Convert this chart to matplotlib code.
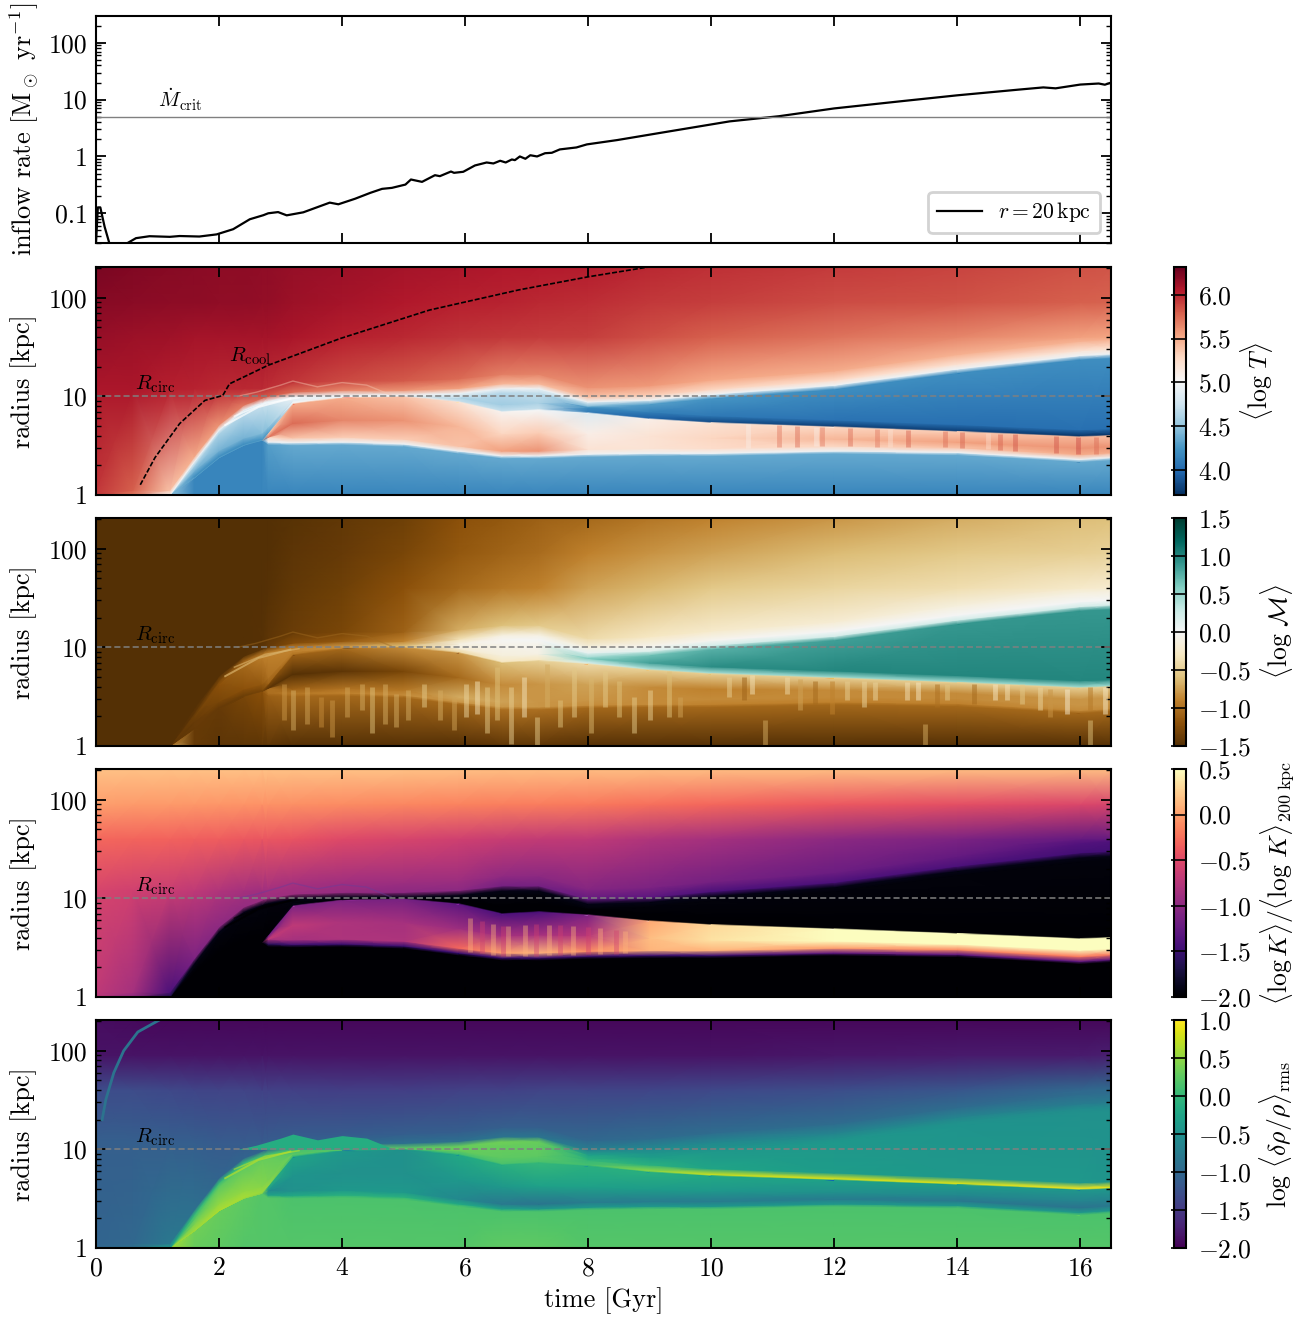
import numpy as np
import matplotlib
matplotlib.use("Agg")
from matplotlib import pyplot as plt
from matplotlib.ticker import FixedLocator, FixedFormatter, NullFormatter

plt.rcParams['font.family'] = ['cmr10', 'DejaVu Sans']
plt.rcParams['mathtext.fontset'] = 'cm'
plt.rcParams['axes.formatter.use_mathtext'] = True
plt.rcParams['axes.unicode_minus'] = False

# inflow rate at r = 20 kpc
inflow_t = [0.0, 0.03, 0.07, 0.14, 0.22, 0.49, 0.65, 0.87, 1.2, 1.36, 1.68, 1.96, 2.23, 2.5, 2.72, 2.8, 2.96, 3.1,
            3.37, 3.8, 3.94, 4.21, 4.46, 4.65, 4.81, 5.03, 5.12, 5.3, 5.51, 5.59, 5.77, 5.82, 5.97, 6.16, 6.35, 6.46,
            6.57, 6.66, 6.76, 6.81, 6.89, 6.98, 7.06, 7.17, 7.3, 7.41, 7.54, 7.81, 7.98, 8.47, 9.22, 10.3, 11.1,
            12.0, 13.1, 14.0, 15.0, 15.4, 15.6, 16.0, 16.3, 16.4, 16.5]
inflow_rate = [0.03, 0.127, 0.127, 0.058, 0.029, 0.029, 0.0365, 0.0395, 0.0385, 0.0398, 0.039, 0.0425, 0.0525, 0.0785,
               0.0925, 0.1, 0.105, 0.092, 0.104, 0.154, 0.144, 0.18, 0.229, 0.269, 0.28, 0.32, 0.393, 0.357, 0.468,
               0.45, 0.543, 0.515, 0.537, 0.694, 0.783, 0.753, 0.84, 0.783, 0.885, 0.861, 1.0, 0.91, 1.05, 1.0, 1.14,
               1.16, 1.33, 1.44, 1.63, 1.94, 2.65, 4.14, 5.1, 7.0, 9.4, 11.9, 15.0, 16.4, 15.8, 18.4, 19.2, 18.3, 19.9]
mdot_crit = 5.0
r_circ = 10.0

# cooling radius
rcool_t = [0.72, 0.96, 1.36, 1.77, 2.06, 2.17, 2.8, 3.97, 5.42, 6.87, 8.0, 8.96]
rcool_r = [1.27, 2.4, 5.3, 9.1, 10.2, 13.4, 20.7, 38.6, 75, 120, 163, 204]

# outgoing shock seen in the density panel
shock_t = [0.1, 0.16, 0.29, 0.45, 0.68, 1.03]
shock_r = [20, 32, 60, 100, 155, 205]

# arcs above Rcirc around t = 3-5 Gyr
arc_t = [2.3, 2.6, 3.0, 3.2, 3.6, 4.0, 4.4, 4.8]
arc_r = [10, 11, 13, 14.3, 12.5, 13.8, 13, 10.3]

# two cold streams just ahead of the front
stream1_t = [2.1, 2.64, 3.16]
stream1_r = [5.1, 7.8, 9.5]
stream2_t = [2.25, 2.75, 3.3]
stream2_r = [6.3, 8.5, 9.7]

# vertical streaks in the Mach map: time, upper and lower radius, value
streak_t = [3.05, 3.21, 3.43, 3.65, 3.84, 4.08, 4.33, 4.49, 4.7, 4.87, 5.08, 5.33, 5.6, 5.82, 6.01, 6.2, 6.36, 6.52,
            6.74, 6.95, 7.17, 7.33, 7.55, 7.77, 8.04, 8.28, 8.5, 8.74, 9.01, 9.31, 9.5, 10.29, 10.53, 10.67, 10.88,
            11.23, 11.45, 11.69, 11.97, 12.21, 12.48, 12.67, 13.18, 13.37, 13.48, 13.67, 13.83, 14.27, 14.62, 14.81,
            15.05, 15.35, 15.51, 15.78, 16.16, 16.16, 16.4]
streak_hi = [4.3, 3.66, 3.96, 3.14, 2.9, 3.96, 4.3, 3.96, 4.3, 3.39, 3.66, 4.3, 3.66, 3.14, 4.3, 4.6, 3.96, 6.3,
             3.96, 5.0, 1.97, 6.8, 2.9, 6.3, 5.0, 5.8, 4.6, 3.14, 3.66, 5.8, 3.14, 5.0, 5.0, 5.2, 1.83,
             5.0, 4.8, 4.6, 4.6, 4.6, 4.6, 4.45, 4.45, 4.45, 1.69, 4.3, 4.3, 4.3, 4.3, 4.3,
             4.3, 3.96, 3.8, 3.8, 1.83, 3.96, 3.96]
streak_lo = [1.83, 1.45, 1.69, 1.56, 1.24, 1.97, 2.3, 1.34, 1.69, 1.56, 1.83, 2.49, 1.83, 1.45, 1.97, 2.13, 1.34, 1.83,
             1.06, 1.97, 1.02, 2.49, 1.56, 1.97, 1.34, 2.49, 1.97, 1.34, 1.83, 1.97, 1.97, 3.14, 2.9, 3.39, 1.02,
             3.39, 2.3, 2.69, 2.13, 2.9, 2.49, 2.9, 2.9, 2.9, 1.02, 2.49, 2.9, 2.69, 2.9, 2.9,
             2.69, 2.3, 1.97, 2.13, 1.02, 2.3, 2.13]
streak_val = [-0.8, -0.7, -0.75, -0.85, -0.8, -0.75, -0.7, -0.6, -0.7, -0.7, -0.7, -0.55, -0.7, -0.75, -0.45, -0.35,
              -0.55, -0.6, -0.5, -0.35, -0.55, -0.7, -0.6, -0.55, -0.65, -0.55, -0.6, -0.55, -0.5, -0.6, -0.75,
              -0.5, -1.1, -0.35, -0.7, -0.4, -0.75, -1.05, -0.9, -0.5, -0.45, -0.45, -0.35, -0.3, -0.7, -1.0, -0.55,
              -1.05, -0.3, -0.35, -0.55, -0.45, -0.8, -0.2, -0.6, -0.95, -0.3]

# stripes in the temperature and entropy maps
T_stripe_t = [10.6, 11.1, 11.4, 11.7, 11.8, 12.26, 12.7, 12.9, 13.2, 13.8, 14.07, 14.5, 14.7, 14.94, 15.6, 15.96, 16.25]
T_stripe_val = [5.1, 5.7, 5.75, 5.1, 5.7, 5.75, 5.7, 5.2, 5.8, 5.75, 5.8, 5.25, 5.8, 5.85, 5.85, 5.9, 5.75]
K_stripe_t = [6.08, 6.27, 6.46, 6.62, 6.7, 6.97, 7.15, 7.36, 7.55, 7.75, 8.0, 8.2, 8.45, 8.6]
K_stripe_val = [0.1, -0.6, 0.1, -0.6, 0.1, 0.1, -0.6, 0.1, -0.6, 0.1, -0.6, 0.1, -0.6, 0.1]

# columns of the maps and the feature radii they follow
map_t = [0, 0.6, 1.2, 1.6, 2.0, 2.4, 2.7, 2.8, 3.2, 4.0, 5.0, 5.9, 6.6, 7.2, 8.0, 9.0, 10.0, 12.0, 14.0, 16.0, 16.5]
band_lo = [1, 1, 1, 1.5, 2.4, 3.2, 3.6, 3.45, 3.4, 3.45, 3.3, 2.8, 2.5, 2.5, 2.6, 2.65, 2.65, 2.8, 2.7, 2.3, 2.4]
band_hi = [1, 1, 1, 1.5, 2.4, 3.2, 3.6, 4.2, 8.4, 9.6, 9.9, 8.8, 7.0, 7.3, 6.8, 5.9, 5.4, 4.9, 4.4, 3.9, 4.0]
disc_top = [1, 1, 1, 2.2, 4.6, 7.3, 8.6, 9.0, 9.9, 10.3, 10.3, 10.8, 12, 12, 8.8, 9.2, 10.5, 13, 19, 26, 27]
upper_r = [40, 90, 205]

# values along each feature radius, bottom row first
logT = [
    [5.95, 5.7, 4.5, 4.15, 4.15, 4.15, 4.15, 4.15, 4.15, 4.15, 4.15, 4.15, 4.15, 4.15, 4.15, 4.15, 4.15, 4.15, 4.15, 4.15, 4.15],
    [5.95, 5.7, 4.5, 4.15, 4.15, 4.15, 4.15, 4.3, 4.35, 4.35, 4.35, 4.35, 4.35, 4.35, 4.35, 4.35, 4.35, 4.35, 4.35, 4.35, 4.35],
    [5.95, 5.7, 4.5, 4.15, 4.15, 4.15, 4.15, 4.95, 4.95, 4.95, 4.95, 4.95, 4.95, 4.95, 4.95, 4.95, 4.95, 4.95, 4.95, 4.95, 4.95],
    [5.95, 5.7, 4.5, 4.15, 4.15, 4.15, 4.15, 5.3, 5.4, 5.35, 5.35, 5.4, 5.55, 5.6, 5.2, 5.2, 5.25, 5.3, 5.4, 5.5, 5.5],
    [5.95, 5.7, 4.5, 4.2, 4.2, 4.2, 4.2, 5.7, 5.75, 5.65, 5.6, 5.45, 5.3, 5.35, 5.1, 5.2, 5.3, 5.45, 5.55, 5.6, 5.6],
    [5.95, 5.7, 4.5, 4.3, 4.3, 4.3, 4.3, 5.4, 5.5, 5.5, 5.4, 5.2, 5.05, 5.0, 4.85, 5.1, 5.2, 5.3, 5.35, 5.45, 5.4],
    [5.95, 5.7, 4.5, 4.2, 4.2, 4.2, 4.25, 4.3, 5.0, 5.2, 5.1, 4.7, 4.7, 4.7, 4.1, 3.95, 3.85, 3.8, 3.8, 3.75, 3.75],
    [5.95, 5.7, 4.55, 4.4, 4.4, 4.4, 4.45, 4.5, 4.9, 5.0, 4.9, 4.6, 4.55, 4.6, 4.2, 4.12, 4.08, 4.05, 4.03, 4.03, 4.03],
    [5.95, 5.7, 4.7, 4.6, 4.6, 4.65, 4.7, 4.7, 4.9, 4.95, 4.9, 4.7, 4.65, 4.7, 4.45, 4.3, 4.25, 4.2, 4.2, 4.2, 4.2],
    [5.95, 5.7, 5.0, 4.95, 4.95, 4.95, 4.95, 4.95, 4.95, 4.95, 4.95, 4.95, 4.95, 4.95, 4.95, 4.95, 4.95, 4.95, 4.95, 4.95, 4.95],
    [5.95, 5.8, 5.4, 5.5, 5.6, 5.7, 5.8, 5.82, 5.75, 5.65, 5.6, 5.55, 5.45, 5.45, 5.4, 5.35, 5.3, 5.25, 5.22, 5.2, 5.2],
    [6.08, 6.08, 6.03, 6.02, 6.0, 6.0, 5.99, 5.98, 5.95, 5.88, 5.82, 5.75, 5.68, 5.66, 5.6, 5.58, 5.52, 5.5, 5.48, 5.48, 5.48],
    [6.15, 6.13, 6.12, 6.1, 6.1, 6.1, 6.1, 6.1, 6.08, 6.03, 6.0, 5.96, 5.94, 5.93, 5.92, 5.86, 5.8, 5.72, 5.65, 5.55, 5.53],
    [6.2, 6.19, 6.18, 6.18, 6.17, 6.17, 6.16, 6.16, 6.13, 6.1, 6.06, 6.03, 6.02, 6.0, 5.98, 5.94, 5.92, 5.87, 5.85, 5.8, 5.78],
    [6.25, 6.22, 6.2, 6.19, 6.18, 6.18, 6.17, 6.17, 6.15, 6.13, 6.1, 6.08, 6.06, 6.05, 6.04, 6.0, 5.97, 5.93, 5.9, 5.85, 5.84],
]
logMach = [
    [-1.5, -1.5, -0.7, -1.4, -1.45, -1.45, -1.45, -1.45, -1.5, -1.5, -1.5, -1.5, -1.45, -1.45, -1.5, -1.5, -1.5, -1.5, -1.5, -1.5, -1.5],
    [-1.5, -1.5, -0.9, -1.4, -1.4, -1.3, -1.2, -1.1, -1.05, -1.05, -1.05, -1.05, -1.0, -1.0, -1.05, -1.05, -1.05, -1.05, -1.05, -1.05, -1.05],
    [-1.5, -1.5, -1.1, -1.4, -1.4, -1.3, -1.2, -1.0, -0.95, -0.9, -0.85, -0.8, -0.8, -0.8, -0.85, -0.85, -0.9, -0.9, -0.9, -0.85, -0.85],
    [-1.5, -1.5, -1.2, -1.4, -1.4, -1.35, -1.3, -1.0, -1.1, -1.0, -0.95, -0.7, -0.75, -0.8, -0.8, -0.85, -0.85, -0.85, -0.85, -0.8, -0.8],
    [-1.5, -1.5, -1.3, -1.4, -1.4, -1.35, -1.3, -1.45, -1.5, -1.45, -1.3, -1.05, -0.85, -0.8, -0.75, -0.85, -0.9, -0.85, -0.85, -0.8, -0.8],
    [-1.5, -1.5, -1.4, -1.4, -1.4, -1.35, -1.3, -1.3, -1.1, -1.05, -0.85, -0.8, -0.6, -0.5, -0.4, -0.5, -0.5, -0.5, -0.5, -0.5, -0.5],
    [-1.5, -1.5, -1.45, -1.4, -1.4, -1.35, -1.3, -1.1, -0.95, -0.95, -0.75, -0.4, -0.3, -0.3, 0.2, 0.4, 0.45, 0.5, 0.5, 0.5, 0.5],
    [-1.5, -1.5, -1.45, -1.4, -1.3, -1.2, -1.15, -1.0, -0.9, -0.9, -0.7, -0.2, -0.15, -0.1, 0.6, 0.85, 0.95, 1.0, 1.0, 1.0, 1.0],
    [-1.5, -1.5, -1.45, -1.35, -1.2, -1.05, -0.92, -0.9, -0.9, -0.85, -0.65, -0.15, -0.05, -0.05, 0.45, 0.65, 0.75, 0.85, 0.9, 0.9, 0.9],
    [-1.5, -1.5, -1.5, -1.45, -1.3, -1.1, -1.0, -0.95, -0.9, -0.8, -0.6, -0.1, -0.02, 0.0, 0.1, 0.15, 0.2, 0.2, 0.2, 0.2, 0.2],
    [-1.5, -1.5, -1.5, -1.5, -1.5, -1.5, -1.45, -1.4, -1.25, -1.15, -0.9, -0.35, -0.15, -0.12, -0.1, -0.05, -0.03, 0.0, 0.0, 0.0, 0.0],
    [-1.5, -1.5, -1.5, -1.5, -1.5, -1.5, -1.48, -1.45, -1.38, -1.3, -1.1, -0.7, -0.6, -0.55, -0.4, -0.3, -0.25, -0.2, -0.15, -0.15, -0.15],
    [-1.5, -1.5, -1.5, -1.5, -1.5, -1.5, -1.5, -1.48, -1.42, -1.35, -1.2, -1.05, -0.95, -0.9, -0.75, -0.65, -0.55, -0.45, -0.38, -0.25, -0.22],
    [-1.5, -1.5, -1.5, -1.5, -1.5, -1.5, -1.5, -1.5, -1.45, -1.4, -1.3, -1.15, -1.08, -1.02, -0.9, -0.82, -0.75, -0.63, -0.55, -0.5, -0.48],
    [-1.5, -1.5, -1.5, -1.5, -1.5, -1.5, -1.5, -1.5, -1.47, -1.42, -1.35, -1.2, -1.15, -1.1, -1.05, -0.97, -0.9, -0.8, -0.7, -0.62, -0.6],
]
logK = [
    [-0.75, -1.0, -2, -2, -2, -2, -2, -2, -2, -2, -2, -2, -2, -2, -2, -2, -2, -2, -2, -2, -2],
    [-0.75, -1.0, -2, -2, -2, -2, -2, -2, -2, -2, -2, -2, -2, -2, -2, -2, -2, -2, -2, -2, -2],
    [-0.75, -1.0, -2, -2, -2, -2, -2, -1.6, -1.5, -1.5, -1.5, -1.5, -1.5, -1.5, -1.5, -1.5, -1.5, -1.3, -1.3, -1.3, -1.3],
    [-0.75, -1.0, -2, -2, -2, -2, -2, -0.8, -0.85, -0.8, -0.8, -0.3, 0.0, 0.1, -0.1, 0.1, 0.1, 0.0, -0.1, -0.2, -0.2],
    [-0.75, -1.0, -2, -2, -2, -2, -2, -0.7, -0.7, -0.8, -0.85, -0.9, -0.85, -0.85, -0.75, 0.15, 0.35, 0.5, 0.5, 0.5, 0.5],
    [-0.75, -1.0, -2, -2, -2, -2, -2, -1.2, -1.1, -1.1, -1.15, -1.3, -1.4, -1.4, -1.1, 0.05, 0.3, 0.5, 0.5, 0.5, 0.5],
    [-0.75, -1.0, -2, -2, -2, -2, -2, -2, -1.9, -2, -2, -2, -2, -2, -2, -2, -2, -2, -2, -2, -2],
    [-0.75, -1.0, -2, -2, -2, -2, -2, -2, -1.95, -2, -2, -2, -2, -2, -2, -2, -2, -2, -2, -2, -2],
    [-0.75, -1.0, -1.9, -1.95, -1.95, -1.95, -1.95, -1.95, -1.95, -1.95, -1.95, -1.95, -1.95, -1.95, -1.95, -1.95, -1.95, -1.95, -1.95, -1.95, -1.95],
    [-0.75, -1.0, -1.7, -1.9, -1.9, -1.9, -1.9, -1.9, -1.9, -1.9, -1.9, -1.9, -1.9, -1.9, -1.9, -1.9, -1.9, -1.9, -1.9, -1.9, -1.9],
    [-0.7, -0.85, -1.4, -1.1, -1.0, -0.95, -0.92, -0.9, -0.9, -0.95, -1.0, -1.0, -1.15, -1.15, -1.25, -1.3, -1.4, -1.4, -1.4, -1.45, -1.45],
    [-0.55, -0.6, -0.65, -0.7, -0.78, -0.85, -0.88, -0.85, -0.85, -0.88, -0.9, -0.9, -0.98, -1.0, -1.05, -1.1, -1.15, -1.2, -1.25, -1.35, -1.38],
    [-0.3, -0.32, -0.33, -0.34, -0.35, -0.38, -0.4, -0.4, -0.42, -0.5, -0.55, -0.6, -0.65, -0.68, -0.7, -0.78, -0.85, -1.0, -1.1, -1.25, -1.25],
    [0.0, -0.02, -0.03, -0.04, -0.05, -0.06, -0.07, -0.07, -0.08, -0.1, -0.13, -0.15, -0.17, -0.18, -0.2, -0.25, -0.3, -0.38, -0.45, -0.52, -0.55],
    [0.17, 0.17, 0.17, 0.17, 0.17, 0.17, 0.17, 0.17, 0.17, 0.17, 0.17, 0.16, 0.15, 0.15, 0.15, 0.15, 0.15, 0.15, 0.15, 0.15, 0.15],
]
logDrho = [
    [-1.0, -0.9, 0.6, 0.3, 0.25, 0.2, 0.2, 0.2, 0.2, 0.2, 0.2, 0.2, 0.25, 0.25, 0.2, 0.2, 0.2, 0.2, 0.2, 0.2, 0.2],
    [-1.0, -0.9, 0.6, 0.35, 0.3, 0.25, 0.2, 0.2, 0.15, 0.15, 0.15, 0.15, 0.15, 0.15, 0.15, 0.15, 0.15, 0.15, 0.15, 0.15, 0.15],
    [-1.0, -0.9, 0.6, 0.4, 0.35, 0.3, 0.3, -0.3, -0.2, -0.1, -0.1, -0.2, -0.3, -0.4, -0.4, -0.4, -0.4, -0.4, -0.4, -0.4, -0.4],
    [-1.0, -0.9, 0.6, 0.45, 0.4, 0.35, 0.35, -0.6, -0.5, -0.4, -0.4, -0.6, -0.8, -0.85, -0.75, -0.75, -0.75, -0.75, -0.8, -0.85, -0.8],
    [-1.0, -0.9, 0.6, 0.5, 0.5, 0.5, 0.45, -0.45, -0.45, -0.5, -0.5, -0.4, -0.4, -0.3, -0.3, -0.35, -0.4, -0.5, -0.6, -0.65, -0.65],
    [-1.0, -0.9, 0.6, 0.55, 0.65, 0.55, 0.45, -0.1, -0.25, -0.4, -0.5, -0.2, -0.1, 0.0, -0.1, -0.1, -0.2, -0.3, -0.35, -0.4, -0.4],
    [-1.0, -0.9, 0.5, 0.55, 0.6, 0.6, 0.55, 0.5, 0.1, -0.1, -0.2, 0.1, 0.15, 0.15, 0.1, 0.5, 0.8, 0.85, 0.85, 0.95, 0.9],
    [-1.0, -0.9, 0.1, 0.4, 0.5, 0.5, 0.45, 0.4, 0.3, 0.25, 0.25, 0.3, 0.25, 0.25, 0.0, -0.1, -0.25, -0.35, -0.4, -0.4, -0.45],
    [-1.0, -0.9, -0.1, 0.2, 0.25, 0.25, 0.3, 0.3, 0.2, 0.2, 0.25, 0.3, 0.3, 0.28, -0.1, -0.35, -0.4, -0.4, -0.45, -0.5, -0.5],
    [-1.0, -0.9, -0.3, 0.0, 0.0, 0.0, 0.1, 0.1, 0.1, 0.2, 0.25, 0.3, 0.35, 0.3, -0.3, -0.45, -0.5, -0.5, -0.5, -0.55, -0.55],
    [-1.05, -1.0, -0.8, -0.9, -1.05, -1.05, -1.05, -1.05, -1.0, -1.0, -0.9, -0.9, -0.85, -0.85, -0.7, -0.6, -0.6, -0.65, -0.65, -0.75, -0.75],
    [-1.1, -1.1, -1.1, -1.12, -1.15, -1.15, -1.15, -1.15, -1.15, -1.15, -1.12, -1.12, -1.1, -1.1, -1.0, -0.95, -0.95, -0.95, -0.95, -0.95, -0.95],
    [-1.3, -1.32, -1.35, -1.38, -1.4, -1.4, -1.42, -1.42, -1.43, -1.45, -1.45, -1.42, -1.42, -1.4, -1.4, -1.38, -1.35, -1.3, -1.2, -1.0, -0.95],
    [-1.85, -1.85, -1.85, -1.85, -1.85, -1.85, -1.85, -1.85, -1.85, -1.85, -1.85, -1.85, -1.85, -1.85, -1.85, -1.85, -1.85, -1.82, -1.8, -1.78, -1.75],
    [-1.9, -1.92, -1.95, -1.95, -1.95, -1.95, -1.95, -1.95, -1.95, -1.95, -1.95, -1.95, -1.95, -1.95, -1.95, -1.95, -1.95, -1.95, -1.95, -1.95, -1.95],
]

time_ticks = [0, 2, 4, 6, 8, 10, 12, 14, 16]
cbar_T_ticks = [4.0, 4.5, 5.0, 5.5, 6.0]
cbar_mach_ticks = [-1.5, -1.0, -0.5, 0.0, 0.5, 1.0, 1.5]
cbar_K_ticks = [-2.0, -1.5, -1.0, -0.5, 0.0, 0.5]
cbar_drho_ticks = [-2.0, -1.5, -1.0, -0.5, 0.0, 0.5, 1.0]

W, H = 1312, 1327
LEFT, RIGHT = 96, 1111
CB_LEFT, CB_RIGHT = 1174, 1186
panel_tops = [16, 267, 518, 769, 1020]
panel_h = 228
FS = 18.5


def px_axes(fig, x0, x1, ytop, height):
    return fig.add_axes([x0 / W, 1 - (ytop + height) / H, (x1 - x0) / W, height / H])


def style_log_axis(ax, ticks, labels):
    ax.set_yscale('log')
    ax.yaxis.set_major_locator(FixedLocator(ticks))
    ax.yaxis.set_major_formatter(FixedFormatter(labels))
    ax.yaxis.set_minor_locator(matplotlib.ticker.LogLocator(base=10, subs=np.arange(2, 10), numticks=12))
    ax.yaxis.set_minor_formatter(NullFormatter())
    ax.set_xlim(0, 16.5)
    ax.set_xticks(time_ticks)
    ax.tick_params(which='major', direction='in', top=True, right=True, length=7.5, width=1.3, labelsize=FS, pad=6)
    ax.tick_params(which='minor', direction='in', top=False, right=True, length=3.7, width=1.0)
    for s in ax.spines.values():
        s.set_linewidth(1.5)


def feature_grid():
    lo, hi, top = np.array(band_lo, float), np.array(band_hi, float), np.array(disc_top, float)
    open_band = hi > lo
    rows = [np.ones_like(lo), np.maximum(np.where(open_band, lo / 1.06, lo), 1), lo,
            np.where(open_band, lo * 1.12, lo), np.sqrt(lo * hi), hi,
            np.where(hi < top, hi * 1.03, hi), np.minimum(hi * 1.18, np.sqrt(hi * top)), top / 1.1, top, top * 1.12,
            np.maximum(top * 1.4, 12)]
    rows += [np.full_like(lo, v) for v in upper_r]
    return np.maximum.accumulate(np.array(rows), axis=0)


fig = plt.figure(figsize=(W / 100, H / 100), dpi=100)

# inflow panel
ax = px_axes(fig, LEFT, RIGHT, panel_tops[0], panel_h - 1)
ax.plot(inflow_t, inflow_rate, color='k', lw=1.6, label=r'$r=20\,{\rm kpc}$')
ax.axhline(mdot_crit, color='grey', lw=1.0)
ax.text(1.0, 5.8, r'$\dot{M}_{\rm crit}$', fontsize=15, va='bottom', ha='left')
style_log_axis(ax, [0.1, 1, 10, 100], ['0.1', '1', '10', '100'])
ax.set_ylim(0.03, 296)
ax.set_xticklabels([])
ax.set_ylabel(r'inflow rate [M$_\odot$ yr$^{-1}$]', fontsize=19, labelpad=6)
leg = ax.legend(loc='lower right', fontsize=15.5, frameon=True, framealpha=1, edgecolor='lightgrey',
                fancybox=True, borderpad=0.4, handlelength=2.1, handletextpad=0.75,
                bbox_to_anchor=(0.989, 0.044), borderaxespad=0)
leg.get_frame().set_linewidth(2)

panels = [
    (logT, 'RdBu_r', 3.71, 6.32, cbar_T_ticks, r'$\langle\log\,T\rangle$'),
    (logMach, 'BrBG', -1.5, 1.5, cbar_mach_ticks, r'$\langle\log\,\mathcal{M}\rangle$'),
    (logK, 'magma', -2.0, 0.5, cbar_K_ticks, r'$\langle\log K\rangle/\langle\log\,K\rangle_{200\ {\rm kpc}}$'),
    (logDrho, 'viridis', -2.0, 1.0, cbar_drho_ticks, r'$\log\,\langle\delta\rho/\rho\rangle_{\rm rms}$'),
]
stream_colors = ['white', '#d9b36c', 'black', '#b5de2b']
grid_r = feature_grid()
grid_t = np.tile(np.array(map_t, float), (grid_r.shape[0], 1))

for i, (values, cmap, vmin, vmax, cticks, clabel) in enumerate(panels):
    ytop = panel_tops[i + 1]
    ax = px_axes(fig, LEFT, RIGHT, ytop, panel_h)
    mesh = ax.pcolormesh(grid_t, grid_r, np.array(values), shading='gouraud', cmap=cmap, vmin=vmin, vmax=vmax)
    cm = plt.get_cmap(cmap)

    if i == 0:
        lo = np.interp(T_stripe_t, map_t, band_lo) * 1.12
        hi = np.interp(T_stripe_t, map_t, band_hi) * 0.99
        ax.vlines(T_stripe_t, lo, hi, colors=cm(mesh.norm(T_stripe_val)), lw=3.5, alpha=0.45)
    elif i == 1:
        ax.vlines(streak_t, streak_lo, streak_hi, colors=cm(mesh.norm(streak_val)), lw=3.5, alpha=0.5)
    elif i == 2:
        lo = np.interp(K_stripe_t, map_t, band_lo) * 1.05
        hi = np.interp(K_stripe_t, map_t, band_hi) * 0.75
        ax.vlines(K_stripe_t, lo, hi, colors=cm(mesh.norm(K_stripe_val)), lw=3.5, alpha=0.4)

    ax.plot(stream1_t, stream1_r, color=stream_colors[i], lw=1.4, alpha=0.7)
    ax.plot(stream2_t, stream2_r, color=stream_colors[i], lw=1.1, alpha=0.6)

    if i == 3:
        ax.fill_between(arc_t, r_circ, arc_r, color=cm(0.62), lw=0)
        ax.plot(shock_t, shock_r, color=cm(0.38), lw=2)
    else:
        ax.plot(arc_t, arc_r, color=['#f4c4b0', '#a06a20', '#6a3d9a'][i], lw=1.0, alpha=0.45)

    ax.axhline(r_circ, color='grey', lw=1.1, ls='--', dashes=(4, 2))
    ax.text(0.63, 10.4, r'$R_{\rm circ}$', fontsize=15, va='bottom', ha='left')
    if i == 0:
        ax.plot(rcool_t, rcool_r, color='k', lw=1.2, ls='--', dashes=(3, 1.2))
        ax.text(2.16, 20.0, r'$R_{\rm cool}$', fontsize=15, va='bottom', ha='left')
    style_log_axis(ax, [1, 10, 100], ['1', '10', '100'])
    ax.set_ylim(1, 205)
    ax.set_ylabel('radius [kpc]', fontsize=19, labelpad=9)
    if i < 3:
        ax.set_xticklabels([])
    else:
        ax.set_xticklabels([str(t) for t in time_ticks])
        ax.set_xlabel('time [Gyr]', fontsize=19, labelpad=5)

    cax = px_axes(fig, CB_LEFT, CB_RIGHT, ytop, panel_h)
    cb = fig.colorbar(mesh, cax=cax)
    cb.set_ticks(cticks)
    cb.set_ticklabels(['$%.1f$' % v for v in cticks])
    cax.tick_params(direction='in', length=11, width=1.2, labelsize=FS, pad=9, right=True, left=False)
    cax.minorticks_off()
    cb.outline.set_linewidth(1.5)
    cb.set_label(clabel, fontsize=FS, labelpad=4)

fig.savefig('out.png', dpi=100)
